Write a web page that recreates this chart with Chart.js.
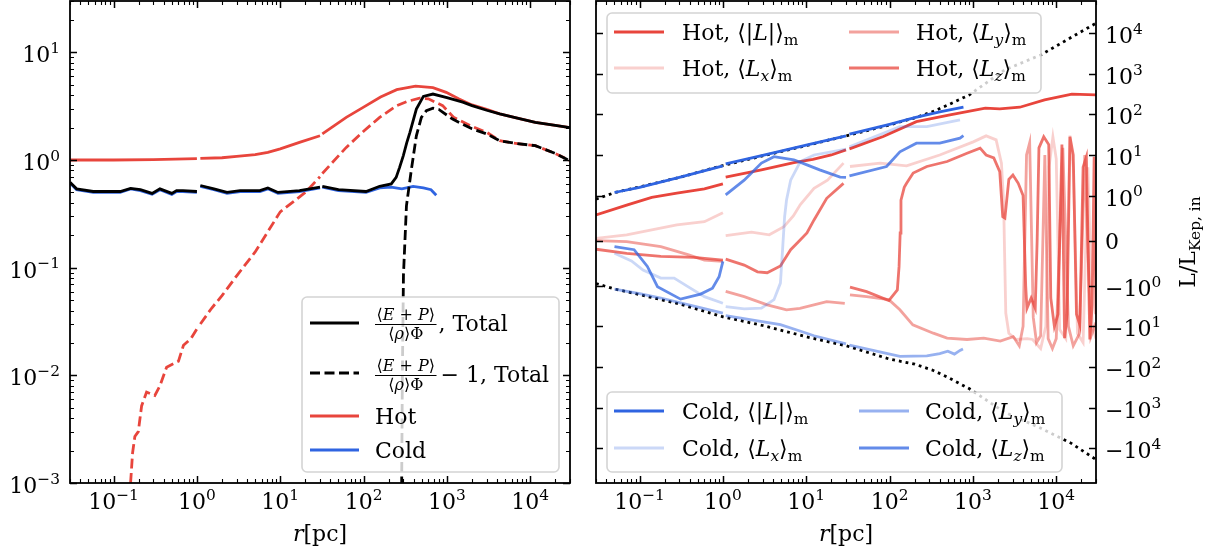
<!DOCTYPE html>
<html>
<head>
<meta charset="utf-8">
<script src="https://cdn.jsdelivr.net/npm/chart.js@4.4.1/dist/chart.umd.min.js"></script>
<style>
  html, body { margin: 0; padding: 0; background: #fff; }
  #wrap { position: relative; width: 1210px; height: 552px; overflow: hidden; }
  canvas { position: absolute; top: 0; }
  #left { left: 0; }
  #right { left: 590px; }
</style>
</head>
<body>
<div id="wrap">
  <canvas id="left" width="590" height="552"></canvas>
  <canvas id="right" width="620" height="552"></canvas>
</div>
<script>
// ---------- left panel data: (E+P)/(<rho>Phi) ----------
const rHot = [0.03, 0.1, 0.3, 1.0, 1.04, 1.1, 2, 3, 5, 7.1, 10, 17, 30, 31.5, 32, 62, 100, 160, 250, 420, 680, 980, 1380, 2000, 3000, 4300, 7000, 11500, 20000, 30000];
const hotRatio = [1.0, 1.0, 1.01, 1.03, null, 1.035, 1.05, 1.08, 1.12, 1.18, 1.27, 1.46, 1.68, null, 1.75, 2.49, 3.1, 3.85, 4.5, 4.85, 4.7, 4.25, 3.7, 3.25, 2.95, 2.68, 2.45, 2.24, 2.1, 2.0];

const rHotM1 = [0.16, 0.169, 0.18, 0.198, 0.217, 0.249, 0.313, 0.36, 0.433, 0.6, 0.69, 0.85, 1.0, 1.04, 1.1, 1.5, 2, 3, 5, 10, 20, 30, 31.5, 32, 62, 100, 156, 250, 327, 470, 600, 890, 1200, 2000, 3000, 4300, 7000, 11500, 20000, 30000];
const hotRatioM1 = [0.001, 0.0019, 0.0027, 0.003, 0.0052, 0.007, 0.0065, 0.008, 0.0119, 0.0135, 0.019, 0.022, 0.027, null, 0.03, 0.042, 0.055, 0.084, 0.14, 0.33, 0.5, 0.7, null, 0.75, 1.31, 1.85, 2.49, 3.2, 3.48, 3.76, 3.7, 3.2, 2.5, 2.05, 1.81, 1.51, 1.42, 1.36, 1.15, 0.99];

const rTot = [0.03, 0.036, 0.057, 0.12, 0.16, 0.21, 0.29, 0.36, 0.5, 0.57, 0.68, 1.0, 1.04, 1.1, 1.6, 2.3, 3.3, 5.7, 7.1, 9.4, 17, 30, 31.5, 32, 50, 107, 156, 215, 246, 270, 300, 330, 360, 430, 522, 680, 1000, 1550, 2000, 3000, 4300, 7000, 11500, 20000, 30000];
const totRatio = [0.62, 0.54, 0.51, 0.51, 0.545, 0.53, 0.49, 0.54, 0.49, 0.52, 0.52, 0.51, null, 0.58, 0.54, 0.50, 0.52, 0.52, 0.55, 0.50, 0.52, 0.56, null, 0.57, 0.53, 0.51, 0.57, 0.6, 0.69, 0.85, 1.1, 1.45, 1.81, 2.97, 3.9, 4.1, 3.8, 3.45, 3.2, 2.9, 2.68, 2.45, 2.24, 2.1, 2.0];

const rTotM1 = [285, 292, 301, 327, 375, 430, 494, 567, 680, 800, 1170, 2000, 3000, 4300, 7000, 11500, 20000, 30000];
const totRatioM1 = [0.0005, 0.01, 0.085, 0.376, 0.82, 1.68, 2.49, 2.87, 3.03, 2.95, 2.4, 1.95, 1.75, 1.51, 1.42, 1.36, 1.15, 0.98];

const rCold = [0.03, 0.036, 0.057, 0.12, 0.16, 0.21, 0.29, 0.36, 0.5, 0.57, 0.68, 1.0, 1.04, 1.1, 1.6, 2.3, 3.3, 5.7, 7.1, 9.4, 17, 30, 31.5, 32, 50, 107, 156, 214, 288, 393, 522, 645, 745];
const coldRatio = [0.61, 0.53, 0.5, 0.5, 0.54, 0.52, 0.48, 0.53, 0.48, 0.51, 0.51, 0.5, null, 0.57, 0.53, 0.49, 0.51, 0.51, 0.54, 0.49, 0.51, 0.55, null, 0.56, 0.52, 0.5, 0.55, 0.56, 0.54, 0.57, 0.55, 0.53, 0.47];

// ---------- right panel data: L / L_Kep,in ----------
const rKep = [0.03, 0.05, 0.1, 0.3, 1, 3, 10, 30, 100, 200, 330, 500, 900, 2400, 6500, 15000, 30000];
const kepUp = [0.92, 1.18, 1.63, 2.8, 5.5, 9.5, 17, 29.5, 55, 82, 117, 170, 300, 1240, 2900, 7800, 17600];
const kepDown = [-0.95, -1.2, -1.65, -2.8, -5.8, -9.5, -18, -30, -64, -85, -120, -180, -340, -1300, -3200, -7500, -19000];

const rHotL = [0.03, 0.07, 0.14, 0.28, 0.6, 1.0, 1.04, 1.08, 2.9, 7.1, 12, 20, 30, 31.5, 33, 84, 210, 530, 1410, 2100, 3660, 7250, 15400, 30000];
const hotL = [0.57, 0.79, 0.96, 1.15, 1.46, 1.94, null, 2.84, 4.3, 6.5, 7.8, 10, 13.3, null, 14.1, 28.4, 66, 97, 142, 136, 150, 227, 314, 302];

const rHotLx = [0.03, 0.07, 0.15, 0.28, 0.6, 1.0, 1.04, 1.08, 2.2, 3.6, 5.4, 7, 8.5, 12.4, 18, 28, 31.5, 33.5, 77, 160, 400, 1010, 1440, 1900, 2200, 2340, 2400, 2480, 2700, 3300, 4500, 5200, 6500, 7500, 8200, 9120, 10000, 11000, 13000, 14600, 16000, 18000, 21000, 24000, 27000, 30000];
const hotLx = [0.05, 0.13, 0.25, 0.35, 0.42, 0.62, null, 0.11, 0.19, 0.13, 0.31, 0.55, 0.8, 1.5, 2.4, 6.3, null, 5.2, 6.3, 5.4, 10, 21, 29.5, 23.6, 6.3, 0.83, -0.28, -4.7, -14.7, -21, -20, -21, -35, -10, 5, 28, 8, -12, -20, 30, 5, -15, -25, 5, -10, -20];

const rHotLy = [0.03, 0.07, 0.18, 0.38, 0.6, 1.0, 1.04, 1.08, 1.8, 3.4, 5.8, 8.4, 17.6, 29, 31.5, 33.5, 53, 98, 133, 190, 335, 490, 850, 1350, 2130, 3050, 3600, 4000, 4400, 4800, 5300, 5800, 6500, 7300, 8000, 9000, 10000, 12000, 14000, 16000, 19000, 22000, 26000, 30000];
const hotLy = [0.0, -0.02, -0.13, -0.31, -0.43, -0.46, null, -1.38, -1.85, -2.95, -3.9, -3.6, -2.45, -2.7, null, -1.67, -1.85, -2.2, -3.9, -9.2, -14.7, -19.5, -21, -19.5, -23, -17.8, -30, -10, 10, 20, -6, -25, -17, 10, -20, -35, -20, 15, -10, -30, -15, 10, -18, -8];

const rHotLz = [0.03, 0.07, 0.18, 0.45, 1.0, 1.04, 1.08, 1.8, 2.6, 3.4, 4.9, 6.5, 7.8, 10.2, 12.4, 17.6, 28, 31.5, 33.5, 53, 98, 124, 130, 134, 137, 150, 160, 192, 280, 490, 850, 1220, 1440, 1780, 2100, 2280, 2420, 2700, 3020, 3500, 4000, 4300, 4450, 5000, 5600, 5900, 6200, 7080, 8130, 8600, 9500, 10500, 11700, 12600, 13500, 14600, 16000, 17500, 19200, 21000, 23000, 25300, 27000, 28500, 30000];
const hotLz = [-0.19, -0.28, -0.35, -0.37, -0.43, null, -0.41, -0.54, -0.69, -0.71, -0.56, -0.2, -0.05, 0.17, 0.46, 0.94, 2.0, null, -1.08, -1.39, -2.31, -1.26, -0.57, 0.17, 0.9, 1.6, 2.0, 3.6, 5.2, 6.9, 11, 14.7, 10, 8.5, 3.9, 0.53, 0.5, 2.5, 3.2, 2, 1, -1, -3.6, -2, -3.6, 0, 15, 28, 18, -2, -10, -5, 18, -19.5, -5, 28, 10, -5, -9.2, 5, 9, -21, -3, 9, -5];

const rColdL = [0.05, 0.1, 0.3, 1.0, 1.04, 1.08, 3, 10, 30, 31.5, 33, 100, 200, 400, 770];
const coldL = [1.19, 1.6, 2.8, 5.4, null, 6.0, 9.8, 17.5, 29.5, null, 32.5, 57, 83, 115, 150];

const rColdLx = [0.05, 0.08, 0.11, 0.18, 0.26, 0.38, 0.6, 1.0, 1.04, 1.08, 1.8, 2.9, 4.1, 4.9, 5.2, 5.5, 5.8, 6.5, 8.5, 12.4, 20, 30, 31.5, 33, 133, 280, 700];
const coldLx = [-0.28, -0.45, -0.65, -0.83, -0.83, -1.05, -1.85, -2.7, null, -3.25, -3.7, -3.56, -2.2, -0.94, -0.2, 0.53, 0.9, 2.4, 6.9, 10, 12, 14, null, 16, 50, 50, 73];

const rColdLy = [0.05, 0.1, 0.18, 0.4, 1.0, 1.04, 1.08, 4.9, 8.4, 12.4, 30, 31.5, 33, 133, 280, 400, 500, 600, 700, 760];
const coldLy = [-1.21, -1.55, -2.0, -3.0, -4.7, null, -5.4, -9.1, -13, -17, -27, null, -29, -55, -53, -47, -41, -48, -39, -36];

const rColdLz = [0.05, 0.086, 0.124, 0.164, 0.31, 0.54, 0.75, 0.9, 1.0, 1.04, 1.08, 1.8, 2.9, 4.1, 7.1, 10.2, 14.5, 25.5, 30, 31.5, 33, 92, 133, 210, 400, 700, 770];
const coldLz = [-0.13, -0.2, -0.57, -1.05, -2.13, -1.6, -1.15, -0.8, -0.46, null, 1.04, 2.4, 6.3, 9.1, 7.6, 5.7, 4.3, 2.85, 2.8, null, 3.05, 5.2, 12, 19.5, 19.5, 26, 30];

// tick values
const xTicks = [0.1, 1, 10, 100, 1000, 10000];
const leftYTicks = [0.001, 0.01, 0.1, 1, 10];
const rightYTicks = [-10000, -1000, -100, -10, -1, 0, 1, 10, 100, 1000, 10000];

const RED = '232,69,60';
const BLUE = '47,100,225';
const FONT = '"DejaVu Serif", "Liberation Serif", serif';

Chart.defaults.font.family = FONT;
Chart.defaults.font.size = 22;
Chart.defaults.color = '#000';

// symmetric log scale (linthresh 1, linscale 1), like matplotlib's symlog
const LINSCALE = 1 / (1 - 1 / 10);
function symT(v) {
  const a = Math.abs(v);
  if (a <= 1) return v * LINSCALE;
  return Math.sign(v) * (LINSCALE + Math.log10(a));
}
function symInv(t) {
  const a = Math.abs(t);
  if (a <= LINSCALE) return t / LINSCALE;
  return Math.sign(t) * Math.pow(10, a - LINSCALE);
}
class SymlogScale extends Chart.Scale {
  determineDataLimits() {
    this.min = this.options.min;
    this.max = this.options.max;
  }
  buildTicks() {
    return rightYTicks.map(v => ({ value: v }));
  }
  configure() {
    super.configure();
    this._tmin = symT(this.min);
    this._tmax = symT(this.max);
  }
  getLabelForValue(v) { return String(v); }
  getPixelForValue(v) {
    if (v === null || v === undefined || isNaN(v)) return NaN;
    return this.getPixelForDecimal((symT(v) - this._tmin) / (this._tmax - this._tmin));
  }
  getValueForPixel(p) {
    return symInv(this._tmin + this.getDecimalForPixel(p) * (this._tmax - this._tmin));
  }
}
SymlogScale.id = 'symlog';
SymlogScale.defaults = {};
Chart.register(SymlogScale);

// tick label as rich text: 10 with a raised exponent
function powParts(v) {
  if (v === 0) return [{ t: '0' }];
  const e = Math.round(Math.log10(Math.abs(v)));
  return [{ t: (v < 0 ? '−' : '') + '10' }, { t: String(e).replace('-', '−'), sup: 1 }];
}

function pts(rs, ys) {
  return rs.map((r, i) => ({ x: r, y: ys[i] }));
}
function ds(rs, ys, color, i, extra) {
  return Object.assign({
    data: pts(rs, ys),
    borderColor: color,
    borderWidth: 2.8,
    pointRadius: 0,
    fill: false,
    tension: 0,
    spanGaps: false,
    order: -i
  }, extra || {});
}

// rich text: parts [{t, i (italic), sub, sup}]
function partFont(p, size) {
  const s = (p.sub || p.sup) ? size * 0.7 : size;
  return (p.i ? 'italic ' : '') + s.toFixed(1) + 'px ' + FONT;
}
function richWidth(ctx, parts, size) {
  let w = 0;
  for (const p of parts) { ctx.font = partFont(p, size); w += ctx.measureText(p.t).width; }
  return w;
}
function drawRich(ctx, x, y, parts, size) {
  let cx = x;
  ctx.textBaseline = 'alphabetic';
  ctx.textAlign = 'left';
  for (const p of parts) {
    ctx.font = partFont(p, size);
    const dy = p.sub ? size * 0.22 : (p.sup ? -size * 0.42 : 0);
    ctx.fillText(p.t, cx, y + dy);
    cx += ctx.measureText(p.t).width;
  }
  return cx - x;
}

function sampleLine(ctx, x1, x2, y, color, dash) {
  ctx.save();
  ctx.strokeStyle = color;
  ctx.lineWidth = 2.8;
  ctx.setLineDash(dash || []);
  ctx.beginPath();
  ctx.moveTo(x1, y);
  ctx.lineTo(x2, y);
  ctx.stroke();
  ctx.restore();
}
function legendBox(ctx, x, y, w, h) {
  ctx.save();
  ctx.beginPath();
  ctx.roundRect(x, y, w, h, 5);
  ctx.fillStyle = 'rgba(255,255,255,0.8)';
  ctx.fill();
  ctx.strokeStyle = '#d4d4d4';
  ctx.lineWidth = 1.6;
  ctx.stroke();
  ctx.restore();
}

// log tick positions (major and minor) between min and max
function logTicks(min, max) {
  const out = [];
  for (let k = Math.floor(Math.log10(min)); k <= Math.ceil(Math.log10(max)); k++) {
    for (let m = 1; m <= 9; m++) {
      const v = m * Math.pow(10, k);
      if (v >= min * 0.999 && v <= max * 1.001) out.push({ v, major: m === 1 });
    }
  }
  return out;
}

// matplotlib-like frame with inward ticks on all four sides, tick labels and axis titles
const framePlugin = {
  id: 'frame',
  afterDatasetsDraw(chart) {
    const { ctx, chartArea: a, scales } = chart;
    ctx.save();
    ctx.strokeStyle = '#000';
    ctx.fillStyle = '#000';
    const xs = scales.x, ys = scales.y;
    for (const t of logTicks(xs.min, xs.max)) {
      const px = Math.round(xs.getPixelForValue(t.v)) + 0.5;
      const len = t.major ? 7 : 4;
      ctx.lineWidth = t.major ? 1.5 : 1.1;
      ctx.beginPath();
      ctx.moveTo(px, a.bottom); ctx.lineTo(px, a.bottom - len);
      ctx.moveTo(px, a.top); ctx.lineTo(px, a.top + len);
      ctx.stroke();
    }
    const sym = ys.type === 'symlog';
    const yt = sym ? rightYTicks.map(v => ({ v, major: true })) : logTicks(ys.min, ys.max);
    for (const t of yt) {
      const py = Math.round(ys.getPixelForValue(t.v)) + 0.5;
      const len = t.major ? 7 : 4;
      ctx.lineWidth = t.major ? 1.5 : 1.1;
      ctx.beginPath();
      ctx.moveTo(a.left, py); ctx.lineTo(a.left + len, py);
      ctx.moveTo(a.right, py); ctx.lineTo(a.right - len, py);
      ctx.stroke();
    }
    ctx.lineWidth = 1.8;
    ctx.strokeRect(a.left, a.top, a.right - a.left, a.bottom - a.top);

    // tick labels
    for (const v of xTicks) {
      const parts = powParts(v);
      const w = richWidth(ctx, parts, 22);
      drawRich(ctx, xs.getPixelForValue(v) - w / 2, 509, parts, 22);
    }
    for (const v of (sym ? rightYTicks : leftYTicks)) {
      const parts = powParts(v);
      const py = ys.getPixelForValue(v) + (v === 0 ? 8 : 10);
      if (sym) drawRich(ctx, a.right + 9, py, parts, 22);
      else drawRich(ctx, a.left - 10 - richWidth(ctx, parts, 22), py, parts, 22);
    }

    // x title
    const xt = [{ t: 'r', i: 1 }, { t: '[pc]' }];
    const w = richWidth(ctx, xt, 22);
    drawRich(ctx, (a.left + a.right) / 2 - w / 2, 541, xt, 22);
    ctx.restore();
  },
  afterDraw(chart, args, opts) {
    const ctx = chart.ctx;
    ctx.save();
    ctx.fillStyle = '#000';
    if (opts.draw) opts.draw(ctx, chart);
    ctx.restore();
  }
};

function fraction(ctx, x, barY, size) {
  const num = [{ t: '⟨' }, { t: 'E', i: 1 }, { t: ' + ' }, { t: 'P', i: 1 }, { t: '⟩' }];
  const den = [{ t: '⟨' }, { t: 'ρ', i: 1 }, { t: '⟩Φ' }];
  const wn = richWidth(ctx, num, size), wd = richWidth(ctx, den, size);
  const w = Math.max(wn, wd) + 3;
  drawRich(ctx, x + (w - wn) / 2, barY - 4, num, size);
  drawRich(ctx, x + (w - wd) / 2, barY + 15, den, size);
  ctx.save();
  ctx.strokeStyle = '#000';
  ctx.lineWidth = 1.2;
  ctx.beginPath();
  ctx.moveTo(x, barY + 0.5); ctx.lineTo(x + w, barY + 0.5);
  ctx.stroke();
  ctx.restore();
  return w;
}

function drawLeftLegend(ctx) {
  legendBox(ctx, 302, 297, 257, 175);
  sampleLine(ctx, 310, 359, 323, '#000');
  let w = fraction(ctx, 375, 324, 16);
  drawRich(ctx, 375 + w + 2, 331, [{ t: ', Total' }], 22);
  sampleLine(ctx, 310, 359, 373, '#000', [10, 4.5]);
  w = fraction(ctx, 375, 375, 16);
  drawRich(ctx, 375 + w + 4, 382, [{ t: '− 1, Total' }], 22);
  sampleLine(ctx, 310, 359, 416, `rgb(${RED})`);
  drawRich(ctx, 375, 424, [{ t: 'Hot' }], 22);
  sampleLine(ctx, 310, 359, 450, `rgb(${BLUE})`);
  drawRich(ctx, 375, 458, [{ t: 'Cold' }], 22);
}

function entryParts(kind, comp) {
  const parts = [{ t: kind + ', ⟨' }];
  if (comp === '') {
    parts[0].t += '|';
    parts.push({ t: 'L', i: 1 }, { t: '|⟩' });
  } else {
    parts.push({ t: 'L', i: 1 }, { t: comp, i: 1, sub: 1 }, { t: '⟩' });
  }
  parts.push({ t: 'm', sub: 1 });
  return parts;
}

function drawRightLegends(ctx) {
  const o = -590;
  // hot
  legendBox(ctx, 607 + o, 13, 434, 80);
  const hot = [['', 1, 614, 682, 32], ['x', 0.25, 614, 682, 68], ['y', 0.5, 849, 916, 32], ['z', 0.75, 849, 916, 68]];
  for (const [c, al, lx, tx, y] of hot) {
    sampleLine(ctx, lx + o, lx + 50 + o, y, `rgba(${RED},${al})`);
    drawRich(ctx, tx + o, y + 8, entryParts('Hot', c), 22);
  }
  // cold
  legendBox(ctx, 607 + o, 392, 455, 80);
  const cold = [['', 1, 614, 682, 411], ['x', 0.25, 614, 682, 448], ['y', 0.5, 859, 925, 411], ['z', 0.75, 859, 925, 448]];
  for (const [c, al, lx, tx, y] of cold) {
    sampleLine(ctx, lx + o, lx + 50 + o, y, `rgba(${BLUE},${al})`);
    drawRich(ctx, tx + o, y + 8, entryParts('Cold', c), 22);
  }
  // rotated y title on the right
  ctx.save();
  ctx.translate(1195 + o, 242);
  ctx.rotate(-Math.PI / 2);
  const tp = [{ t: 'L/L' }, { t: 'Kep, in', sub: 1 }];
  const w = richWidth(ctx, tp, 22);
  drawRich(ctx, -w / 2, 0, tp, 22);
  ctx.restore();
}

function xAxis() {
  return {
    type: 'logarithmic', min: 0.03, max: 30000,
    grid: { display: false, drawTicks: false },
    border: { display: false },
    ticks: { display: false },
    afterBuildTicks: s => { s.ticks = xTicks.map(v => ({ value: v })); },
    afterFit: s => { s.height = 69; s.paddingLeft = 0; s.paddingRight = 0; }
  };
}

const noPlug = { legend: { display: false }, tooltip: { enabled: false } };

new Chart(document.getElementById('left'), {
  type: 'line',
  data: {
    datasets: [
      ds(rHot, hotRatio, `rgb(${RED})`, 0),
      ds(rHotM1, hotRatioM1, `rgb(${RED})`, 1, { borderDash: [10, 4.5] }),
      ds(rCold, coldRatio, `rgb(${BLUE})`, 2),
      ds(rTot, totRatio, '#000', 3),
      ds(rTotM1, totRatioM1, '#000', 4, { borderDash: [10, 4.5] })
    ]
  },
  options: {
    responsive: false,
    animation: false,
    layout: { padding: { top: 1, right: 20, left: 0, bottom: 0 } },
    plugins: Object.assign({ frame: { draw: drawLeftLegend } }, noPlug),
    scales: {
      x: xAxis(),
      y: {
        type: 'logarithmic', min: 0.001, max: 30, position: 'left',
        grid: { display: false, drawTicks: false },
        border: { display: false },
        ticks: { display: false },
        afterBuildTicks: s => { s.ticks = leftYTicks.map(v => ({ value: v })); },
        afterFit: s => { s.width = 70; s.paddingTop = 0; s.paddingBottom = 0; }
      }
    }
  },
  plugins: [framePlugin]
});

const hotA = a => `rgba(${RED},${a})`;
const coldA = a => `rgba(${BLUE},${a})`;

new Chart(document.getElementById('right'), {
  type: 'line',
  data: {
    datasets: [
      ds(rKep, kepUp, '#000', 0, { borderDash: [2.8, 4] }),
      ds(rKep, kepDown, '#000', 1, { borderDash: [2.8, 4] }),
      ds(rHotL, hotL, hotA(1), 2),
      ds(rHotLx, hotLx, hotA(0.25), 3),
      ds(rHotLy, hotLy, hotA(0.5), 4),
      ds(rHotLz, hotLz, hotA(0.75), 5),
      ds(rColdL, coldL, coldA(1), 6),
      ds(rColdLx, coldLx, coldA(0.25), 7),
      ds(rColdLy, coldLy, coldA(0.5), 8),
      ds(rColdLz, coldLz, coldA(0.75), 9)
    ]
  },
  options: {
    responsive: false,
    animation: false,
    layout: { padding: { top: 1, right: 0, left: 6, bottom: 0 } },
    plugins: Object.assign({ frame: { draw: drawRightLegends } }, noPlug),
    scales: {
      x: xAxis(),
      y: {
        type: 'symlog', min: -72000, max: 62000, position: 'right',
        grid: { display: false, drawTicks: false },
        border: { display: false },
        ticks: { display: false },
        afterFit: s => { s.width = 114; s.paddingTop = 0; s.paddingBottom = 0; }
      }
    }
  },
  plugins: [framePlugin]
});
</script>
</body>
</html>
